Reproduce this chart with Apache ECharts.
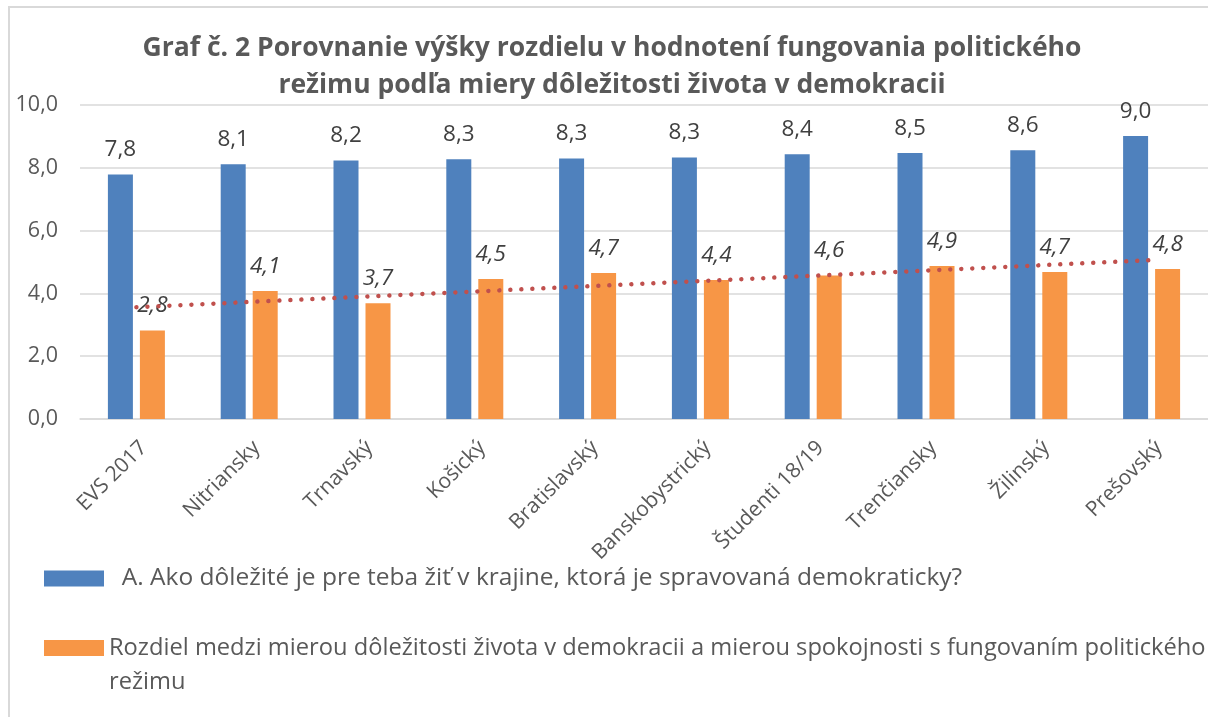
<!DOCTYPE html>
<html>
<head>
<meta charset="utf-8">
<script src="https://cdn.jsdelivr.net/npm/echarts@6/dist/echarts.min.js"></script>
<style>
  body { margin: 0; background: #fff; }
  #frame { position: absolute; left: 8px; top: 6px; width: 1300px; height: 800px; border: 2px solid #d9d9d9; }
  #chart { position: absolute; left: 0; top: 0; width: 1208px; height: 717px; }
</style>
</head>
<body>
<div id="frame"></div>
<div id="chart"></div>
<script>
// kraje a skupiny
const categories = ['EVS 2017', 'Nitriansky', 'Trnavský', 'Košický', 'Bratislavský',
    'Banskobystrický', 'Študenti 18/19', 'Trenčiansky', 'Žilinský', 'Prešovský'];
// A. dôležitosť života v demokracii
const importance = [7.79, 8.11, 8.23, 8.27, 8.30, 8.33, 8.43, 8.47, 8.56, 9.01];
// rozdiel medzi dôležitosťou a spokojnosťou
const difference = [2.82, 4.08, 3.69, 4.46, 4.65, 4.43, 4.57, 4.87, 4.68, 4.78];
// lineárny trend (odčítaný z obrázka, len začiatok a koniec)
const trend = [3.56, null, null, null, null, null, null, null, null, 5.06];
const yTicks = [0, 2, 4, 6, 8, 10];

const nameA = '  A. Ako dôležité je pre teba žiť v krajine, ktorá je spravovaná demokraticky?';
const nameB = 'Rozdiel medzi mierou dôležitosti života v demokracii a mierou spokojnosti s fungovaním politického režimu';

const FONT = 'Open Sans';
const fmt = v => v.toFixed(1).replace('.', ',');

const chart = echarts.init(document.getElementById('chart'));

const options = {
    animation: false,
    textStyle: { fontFamily: FONT },
    title: {
        text: 'Graf č. 2 Porovnanie výšky rozdielu v hodnotení fungovania politického\nrežimu podľa miery dôležitosti života v demokracii',
        left: 612,
        top: 30,
        textAlign: 'center',
        padding: 0,
        textStyle: {
            fontFamily: FONT,
            fontSize: 26.5,
            fontWeight: 'bold',
            color: '#595959',
            lineHeight: 37,
        },
    },
    legend: [
        {
            data: [nameA],
            left: 44,
            top: 566,
            padding: 0,
            icon: 'rect',
            itemWidth: 60,
            itemHeight: 16,
            itemGap: 6,
            textStyle: { fontFamily: FONT, fontSize: 24.5, color: '#595959' },
        },
        {
            data: [nameB],
            left: 44,
            top: 597,
            padding: 0,
            icon: 'rect',
            itemWidth: 60,
            itemHeight: 16,
            itemGap: 6,
            // prázdny prvý riadok, aby ikona stála pri prvom riadku textu
            formatter: name => '\n' + name.replace(' režimu', '\nrežimu'),
            textStyle: {
                fontFamily: FONT, fontSize: 23.7, color: '#595959',
                lineHeight: 34,
            },
        },
    ],
    grid: {
        left: 80,
        top: 105,
        width: 1138,
        height: 314,
        containLabel: false,
    },
    xAxis: {
        type: 'category',
        data: categories,
        axisTick: { show: false },
        axisLine: { lineStyle: { color: '#d9d9d9', width: 1.5 } },
        axisLabel: {
            interval: 0,
            rotate: 45,
            margin: 18,
            verticalAlign: 'top',
            fontFamily: FONT,
            fontSize: 21,
            color: '#595959',
        },
    },
    yAxis: {
        type: 'value',
        min: yTicks[0],
        max: yTicks[yTicks.length - 1],
        interval: yTicks[1] - yTicks[0],
        axisLine: { show: false },
        axisTick: { show: false },
        splitLine: { lineStyle: { color: '#d9d9d9', width: 1.5 } },
        axisLabel: {
            formatter: v => fmt(v),
            margin: 22,
            fontFamily: FONT,
            fontSize: 21.5,
            color: '#595959',
        },
    },
    series: [
        {
            name: nameA,
            type: 'bar',
            data: importance,
            barWidth: 25,
            barGap: '28%',
            itemStyle: { color: '#4f81bd' },
            label: {
                show: true,
                position: 'top',
                distance: 13,
                formatter: p => fmt(p.value),
                fontFamily: FONT,
                fontSize: 22.5,
                color: '#404040',
            },
        },
        {
            name: nameB,
            type: 'bar',
            data: difference,
            barWidth: 25,
            itemStyle: { color: '#f79646' },
            label: {
                show: true,
                position: 'top',
                distance: 13,
                formatter: p => fmt(p.value),
                fontFamily: FONT,
                fontSize: 22.5,
                fontStyle: 'italic',
                color: '#404040',
            },
        },
        {
            name: 'trend',
            type: 'line',
            data: trend,
            connectNulls: true,
            symbol: 'none',
            z: 5,
            lineStyle: {
                color: '#c0504d',
                width: 4.5,
                type: [0.01, 11],
                cap: 'round',
            },
        },
    ],
};

chart.setOption(options);
</script>
</body>
</html>
